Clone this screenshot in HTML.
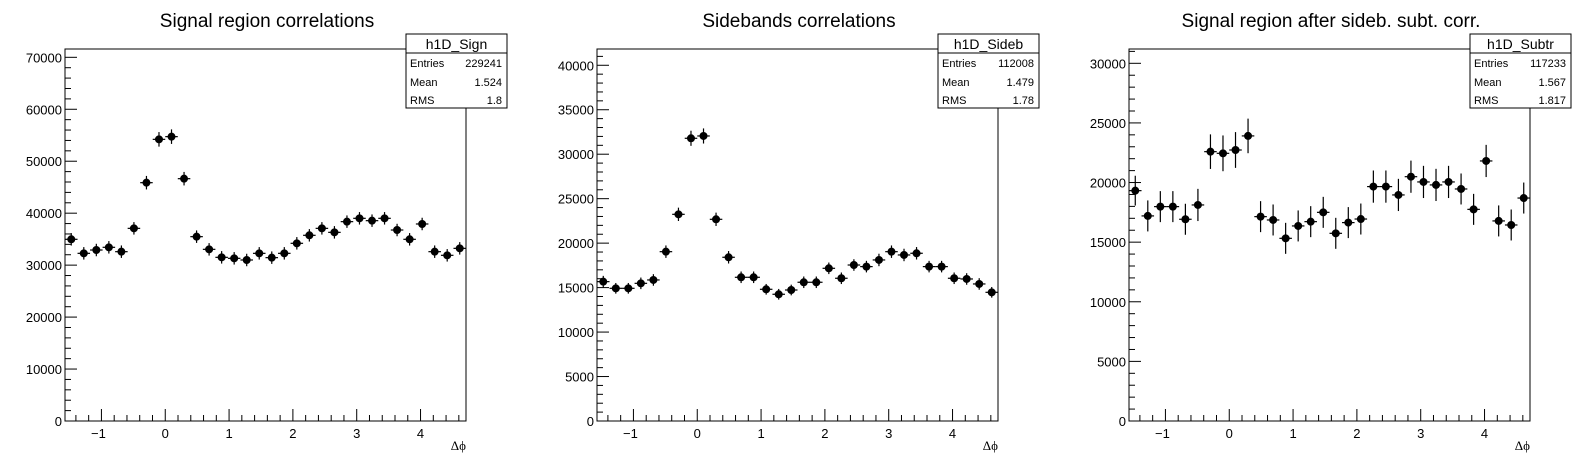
<!DOCTYPE html>
<html><head><meta charset="utf-8">
<style>
html,body{margin:0;padding:0;background:#fff;}
svg{display:block;font-family:"Liberation Sans",Arial,sans-serif;}
</style></head>
<body>
<svg id="c" width="1596" height="472" viewBox="0 0 1596 472" xmlns="http://www.w3.org/2000/svg"></svg>
<script>
const binCount = 32;
const xTicks = [-1, 0, 1, 2, 3, 4];
const titles = ["Signal region correlations", "Sidebands correlations", "Signal region after sideb. subt. corr."];
const statNames = ["h1D_Sign", "h1D_Sideb", "h1D_Subtr"];
const statEntries = ["229241", "112008", "117233"];
const statMeans = ["1.524", "1.479", "1.567"];
const statRms = ["1.8", "1.78", "1.817"];
const yMaxes = [71600, 41830, 31200];
const yMajorSteps = [10000, 5000, 5000];
const yMinorSteps = [2000, 1000, 1000];
const signValues = [34970,32270,32910,33430,32590,37080,45870,54210,54730,46640,35480,33040,31500,31310,30990,32270,31440,32270,34200,35740,37080,36310,38370,39010,38560,39010,36760,34970,37920,32590,31890,33230];
const signErrors = [1200,1200,1200,1200,1200,1200,1300,1400,1400,1300,1200,1200,1200,1200,1200,1200,1200,1200,1200,1200,1200,1200,1200,1200,1200,1200,1200,1200,1200,1200,1200,1200];
const sidebValues = [15670,14920,14920,15480,15860,19040,23240,31790,32050,22680,18410,16160,16160,14810,14250,14730,15600,15600,17170,16050,17540,17360,18110,19040,18670,18860,17360,17360,16050,15970,15410,14470];
const sidebErrors = [650,600,600,650,650,700,750,850,850,750,700,650,650,600,600,600,650,650,650,650,650,650,700,700,700,700,650,650,650,650,650,600];
const subtrValues = [19320,17200,17980,17980,16920,18120,22590,22450,22730,23910,17140,16860,15320,16360,16720,17500,15740,16640,16940,19660,19660,18960,20490,20050,19800,20050,19460,17750,21810,16780,16440,18700];
const subtrErrors = [1250,1300,1300,1300,1300,1350,1450,1500,1500,1450,1300,1300,1300,1300,1300,1300,1300,1300,1300,1350,1350,1350,1350,1350,1350,1350,1300,1300,1350,1300,1300,1300];
const seriesValues = [signValues, sidebValues, subtrValues];
const seriesErrors = [signErrors, sidebErrors, subtrErrors];

const svg = document.getElementById('c');
const NS = 'http://www.w3.org/2000/svg';
function mk(tag, attrs, parent) {
  const e = document.createElementNS(NS, tag);
  for (const k in attrs) e.setAttribute(k, attrs[k]);
  parent.appendChild(e);
  return e;
}
const X0 = -Math.PI/2, X1 = 3*Math.PI/2;

for (let p = 0; p < 3; p++) {
  const off = p * 532;
  const L = off + 65, R = off + 466, T = 49, B = 421;
  const ymax = yMaxes[p];
  const xs = v => L + (v - X0) / (X1 - X0) * (R - L);
  const ys = v => B - v / ymax * (B - T);
  const g = mk('g', {}, svg);
  
  

  const t = mk('text', {x: off + 267, y: 27, 'text-anchor': 'middle', 'font-size': 19}, g);
  t.textContent = titles[p];
  
  

  const fr = mk('rect', {x: L, y: T, width: R - L, height: B - T, fill: 'none', stroke: '#000', 'stroke-width': 1}, g);
  
  

  // y ticks
  const ya = mk('g', {}, g);
  
  
  for (let v = 0; v <= ymax; v += yMinorSteps[p]) {
    const major = v % yMajorSteps[p] === 0;
    const y = ys(v);
    mk('line', {x1: L, x2: L + (major ? 12 : 6), y1: y, y2: y, stroke: '#000', 'stroke-width': 1}, ya);
    if (major) {
      const tl = mk('text', {x: L - 3, y: y + 5, 'text-anchor': 'end', 'font-size': 13}, ya);
      tl.textContent = String(v);
      
      
    }
  }
  // x ticks
  const xa = mk('g', {}, g);
  
  
  for (let i = -7; i <= 23; i++) {
    const v = i * 0.2;
    if (v < X0 || v > X1) continue;
    const major = i % 5 === 0;
    const x = xs(v);
    mk('line', {x1: x, x2: x, y1: B, y2: B - (major ? 12 : 6), stroke: '#000', 'stroke-width': 1}, xa);
  }
  xTicks.forEach(v => {
    const tl = mk('text', {x: xs(v) - (v < 0 ? 3 : 0), y: B + 17, 'text-anchor': 'middle', 'font-size': 13}, xa);
    tl.textContent = v < 0 ? '\u2212' + Math.abs(v) : String(v);
    
    
  });
  const xt = mk('text', {x: R, y: 450, 'text-anchor': 'end', 'font-size': 13, 'font-family': '"Liberation Serif",serif'}, g);
  xt.textContent = '\u0394\u03d5';
  
  

  // data points
  const pts = mk('g', {}, g);
  
  
  const vals = seriesValues[p], errs = seriesErrors[p];
  const bw = (X1 - X0) / binCount;
  for (let i = 0; i < binCount; i++) {
    const lo = X0 + i * bw, hi = lo + bw, c = lo + bw / 2;
    const cx = xs(c), cy = ys(vals[i]);
    const pg = mk('g', {}, pts);
    
    
    mk('line', {x1: xs(lo), x2: xs(hi), y1: cy, y2: cy, stroke: '#000', 'stroke-width': 1.2}, pg);
    mk('line', {x1: cx, x2: cx, y1: ys(vals[i] + errs[i]), y2: ys(vals[i] - errs[i]), stroke: '#000', 'stroke-width': 1.2}, pg);
    mk('circle', {cx: cx, cy: cy, r: 4, fill: '#000'}, pg);
  }

  // stats box
  const sb = mk('g', {}, g);
  
  
  const bx = off + 406, bx2 = off + 507;
  mk('rect', {x: bx, y: 34, width: bx2 - bx, height: 74, fill: '#fff', stroke: '#000', 'stroke-width': 1}, sb);
  mk('line', {x1: bx, x2: bx2, y1: 53, y2: 53, stroke: '#000', 'stroke-width': 1}, sb);
  const st = mk('text', {x: (bx + bx2) / 2, y: 49, 'text-anchor': 'middle', 'font-size': 14}, sb);
  st.textContent = statNames[p];
  
  
  const rows = [['Entries', statEntries[p], 67], ['Mean', statMeans[p], 86], ['RMS', statRms[p], 104]];
  rows.forEach(r => {
    const a = mk('text', {x: bx + 4, y: r[2], 'font-size': 11}, sb);
    a.textContent = r[0];
    
    
    const b = mk('text', {x: bx2 - 5, y: r[2], 'text-anchor': 'end', 'font-size': 11}, sb);
    b.textContent = r[1];
    
    
  });
}
</script>
</body></html>
